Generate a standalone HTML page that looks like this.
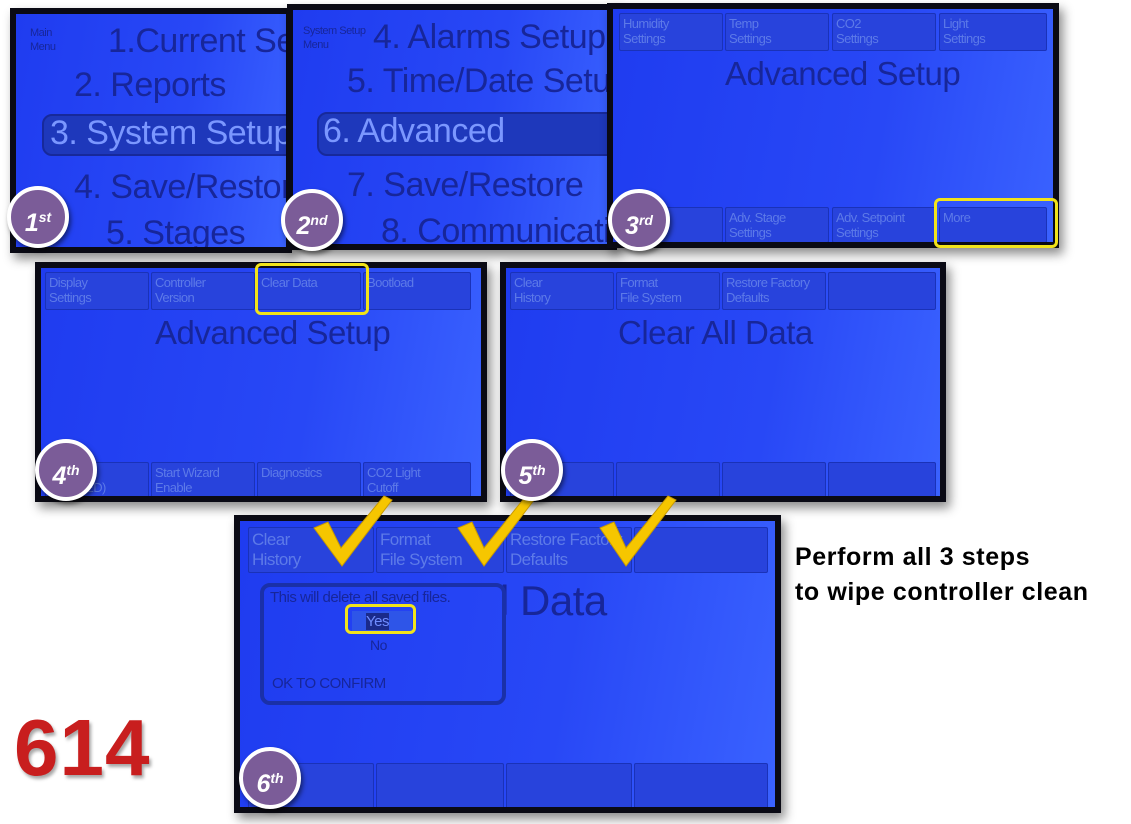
<!DOCTYPE html>
<html><head><meta charset="utf-8"><style>
*{margin:0;padding:0;box-sizing:border-box}
body{width:1131px;height:824px;background:#fff;position:relative;overflow:hidden;font-family:"Liberation Sans",sans-serif}
.p{position:absolute;background:#0a0a14;box-shadow:4px 6px 10px rgba(0,0,0,.45)}
.s{position:absolute;left:6px;top:6px;right:6px;bottom:6px;background:linear-gradient(100deg,#1f3cf0 0%,#2848f6 60%,#3a62ff 100%);overflow:hidden}
.t{position:absolute;color:#17269a;white-space:nowrap;letter-spacing:-.5px}
.b{position:absolute;border:1.5px solid #1a32b8;background:#2843dc;border-radius:2px;color:#5d7ae8;font-size:13px;line-height:15px;padding:2px 3px;letter-spacing:-.6px}
.hl{position:absolute;border:3px solid #f2e31a;border-radius:6px}
.bd{position:absolute;width:62px;height:62px;border-radius:50%;background:#7b5c98;border:4px solid #fff;color:#fff;font-weight:bold;font-style:italic;font-size:25px;text-align:center;line-height:54px;box-shadow:2px 3px 5px rgba(0,0,0,.5)}
.bd sup{font-size:14px;vertical-align:9px}
.sel{position:absolute;background:#1e38bb;border:2px solid #17299a;border-radius:10px}
</style></head><body>

<div class="p" style="left:10px;top:8px;width:282px;height:245px"><div class="s">
<div class="t" style="left:14px;top:12px;font-size:11px;line-height:14px">Main<br>Menu</div>
<div class="t" style="left:92px;top:8px;font-size:34px">1.Current Setup</div>
<div class="t" style="left:58px;top:52px;font-size:34px">2. Reports</div>
<div class="sel" style="left:26px;top:100px;width:280px;height:42px"></div>
<div class="t" style="left:34px;top:100px;font-size:34px;color:#7b97ff">3. System Setup</div>
<div class="t" style="left:58px;top:154px;font-size:34px">4. Save/Restore</div>
<div class="t" style="left:90px;top:200px;font-size:34px">5. Stages</div>
</div></div>

<div class="p" style="left:287px;top:4px;width:330px;height:246px"><div class="s">
<div class="t" style="left:10px;top:14px;font-size:11px;line-height:14px">System Setup<br>Menu</div>
<div class="t" style="left:80px;top:8px;font-size:34px">4. Alarms Setup</div>
<div class="t" style="left:54px;top:52px;font-size:34px">5. Time/Date Setup</div>
<div class="sel" style="left:24px;top:102px;width:320px;height:44px"></div>
<div class="t" style="left:30px;top:102px;font-size:34px;color:#7b97ff">6. Advanced</div>
<div class="t" style="left:54px;top:156px;font-size:34px">7. Save/Restore</div>
<div class="t" style="left:88px;top:202px;font-size:34px">8. Communications</div>
</div></div>

<div class="p" style="left:607px;top:3px;width:452px;height:245px"><div class="s">
<div class="b" style="left:6px;top:4px;width:104px;height:38px">Humidity<br>Settings</div>
<div class="b" style="left:112px;top:4px;width:104px;height:38px">Temp<br>Settings</div>
<div class="b" style="left:219px;top:4px;width:104px;height:38px">CO2<br>Settings</div>
<div class="b" style="left:326px;top:4px;width:108px;height:38px">Light<br>Settings</div>
<div class="t" style="left:112px;top:46px;font-size:33px">Advanced Setup</div>
<div class="b" style="left:6px;top:198px;width:104px;height:36px">&nbsp;&nbsp;&nbsp;&nbsp;&nbsp;&nbsp;&nbsp;&nbsp;&nbsp;nge</div>
<div class="b" style="left:112px;top:198px;width:104px;height:36px">Adv. Stage<br>Settings</div>
<div class="b" style="left:219px;top:198px;width:104px;height:36px">Adv. Setpoint<br>Settings</div>
<div class="b" style="left:326px;top:198px;width:108px;height:36px">More</div>
</div></div>
<div class="hl" style="left:934px;top:198px;width:124px;height:50px"></div>

<div class="p" style="left:35px;top:262px;width:452px;height:240px"><div class="s">
<div class="b" style="left:4px;top:4px;width:104px;height:38px">Display<br>Settings</div>
<div class="b" style="left:110px;top:4px;width:104px;height:38px">Controller<br>Version</div>
<div class="b" style="left:216px;top:4px;width:104px;height:38px">Clear Data</div>
<div class="b" style="left:322px;top:4px;width:108px;height:38px">Bootload</div>
<div class="t" style="left:114px;top:46px;font-size:33px">Advanced Setup</div>
<div class="b" style="left:4px;top:194px;width:104px;height:36px"><br>&nbsp;&nbsp;&nbsp;&nbsp;&nbsp;&nbsp;&nbsp;&nbsp;&nbsp;&nbsp;&nbsp;&nbsp;ED)</div>
<div class="b" style="left:110px;top:194px;width:104px;height:36px">Start Wizard<br>Enable</div>
<div class="b" style="left:216px;top:194px;width:104px;height:36px">Diagnostics</div>
<div class="b" style="left:322px;top:194px;width:108px;height:36px">CO2 Light<br>Cutoff</div>
</div></div>
<div class="hl" style="left:255px;top:263px;width:114px;height:52px"></div>

<div class="p" style="left:500px;top:262px;width:446px;height:240px"><div class="s">
<div class="b" style="left:4px;top:4px;width:104px;height:38px">Clear<br>History</div>
<div class="b" style="left:110px;top:4px;width:104px;height:38px">Format<br>File System</div>
<div class="b" style="left:216px;top:4px;width:104px;height:38px">Restore Factory<br>Defaults</div>
<div class="b" style="left:322px;top:4px;width:108px;height:38px"></div>
<div class="t" style="left:112px;top:46px;font-size:33px">Clear All Data</div>
<div class="b" style="left:4px;top:194px;width:104px;height:36px"></div>
<div class="b" style="left:110px;top:194px;width:104px;height:36px"></div>
<div class="b" style="left:216px;top:194px;width:104px;height:36px"></div>
<div class="b" style="left:322px;top:194px;width:108px;height:36px"></div>
</div></div>

<div class="p" style="left:234px;top:515px;width:547px;height:298px"><div class="s">
<div class="b" style="left:8px;top:6px;width:126px;height:46px;font-size:17px;line-height:20px">Clear<br>History</div>
<div class="b" style="left:136px;top:6px;width:128px;height:46px;font-size:17px;line-height:20px">Format<br>File System</div>
<div class="b" style="left:266px;top:6px;width:126px;height:46px;font-size:17px;line-height:20px">Restore Factory<br>Defaults</div>
<div class="b" style="left:394px;top:6px;width:134px;height:46px"></div>
<div class="t" style="left:260px;top:56px;font-size:42px">l Data</div>
<div style="position:absolute;left:20px;top:62px;width:246px;height:122px;border:4px solid #1a30a8;border-radius:10px"></div>
<div class="t" style="left:30px;top:68px;font-size:15px">This will delete all saved files.</div>
<div style="position:absolute;left:112px;top:90px;width:60px;height:22px;background:#2e55e8;"></div>
<div class="t" style="left:126px;top:92px;font-size:15px;background:#1a2a8a;color:#6f8cff">Yes</div>
<div class="t" style="left:130px;top:116px;font-size:14px">No</div>
<div class="t" style="left:32px;top:154px;font-size:15px">OK TO CONFIRM</div>
<div class="b" style="left:8px;top:242px;width:126px;height:46px"></div>
<div class="b" style="left:136px;top:242px;width:128px;height:46px"></div>
<div class="b" style="left:266px;top:242px;width:126px;height:46px"></div>
<div class="b" style="left:394px;top:242px;width:134px;height:46px"></div>
</div></div>
<div class="hl" style="left:345px;top:604px;width:71px;height:30px"></div>

<svg style="position:absolute;left:0;top:0" width="1131" height="824">
<g fill="#f6c600" stroke="#c99a00" stroke-width="1">
<path d="M314,528 L328,522 L341,548 L384,496 L392,500 L342,566 Z"/>
<path d="M458,528 L472,522 L484,548 L526,496 L534,500 L484,566 Z"/>
<path d="M600,528 L614,522 L626,548 L668,496 L676,500 L626,566 Z"/>
</g></svg>

<div class="bd" style="left:7px;top:186px">1<sup>st</sup></div>
<div class="bd" style="left:281px;top:189px">2<sup>nd</sup></div>
<div class="bd" style="left:608px;top:189px">3<sup>rd</sup></div>
<div class="bd" style="left:35px;top:439px">4<sup>th</sup></div>
<div class="bd" style="left:501px;top:439px">5<sup>th</sup></div>
<div class="bd" style="left:239px;top:747px">6<sup>th</sup></div>

<div style="position:absolute;left:795px;top:540px;font-size:25px;font-weight:bold;line-height:35px;letter-spacing:.6px;color:#000">Perform all 3 steps<br>to wipe controller clean</div>
<div style="position:absolute;left:14px;top:702px;font-size:80px;font-weight:bold;color:#c81e1e;letter-spacing:1px;text-shadow:2px 3px 3px rgba(0,0,0,.35),0 0 2px #fff">614</div>
</body></html>
